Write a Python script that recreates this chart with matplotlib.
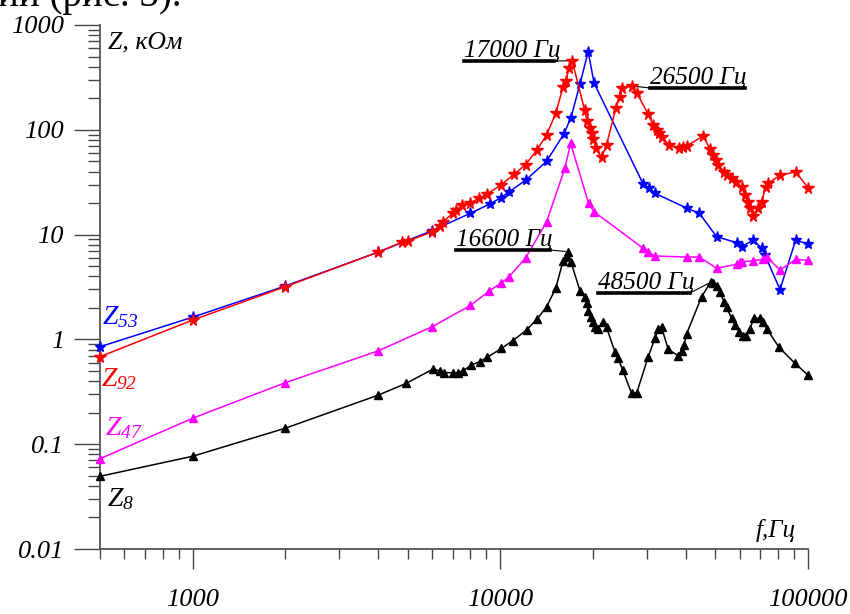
import numpy as np
import matplotlib
matplotlib.use('Agg')
import matplotlib.pyplot as plt
from matplotlib.lines import Line2D
from matplotlib.ticker import FixedLocator, NullFormatter, LogLocator

plt.rcParams['font.family'] = ['Liberation Serif', 'DejaVu Serif']
plt.rcParams['mathtext.fontset'] = 'custom'
plt.rcParams['mathtext.rm'] = 'Liberation Serif:italic'
plt.rcParams['mathtext.it'] = 'Liberation Serif:italic'

# --- data (f in Hz, Z in kOhm) ---
f_53 = [500, 1000, 2000, 4000, 6000, 8000, 9250, 10040, 10660, 12080,
        14130, 16090, 16960, 18140, 19300, 20180, 29130, 30470, 31800, 40500,
        44320, 50470, 58620, 60860, 66380, 70690, 72460, 81090, 91200, 100000]
z_53 = [0.851, 1.63, 3.23, 6.78, 10.9, 16.0, 19.6, 22.5, 25.5, 33.0,
        50.0, 91.2, 130, 272, 556, 278, 30.4, 27.7, 24.8, 17.8,
        16.0, 9.55, 8.37, 7.66, 8.88, 7.40, 6.38, 2.99, 8.88, 8.13]

f_92 = [500, 1000, 2000, 4000, 4800, 5000, 6000, 6360, 6520, 7020,
        7200, 7535, 8000, 8530, 9060, 10060, 11060, 12080, 13120, 14130,
        15150, 16000, 16330, 16740, 17120, 18790, 19150, 19550, 19800, 20040,
        20440, 21330, 22140, 23750, 24470, 24840, 26720, 27730, 30250, 31400,
        32210, 32850, 33440, 35390, 38060, 39130, 40320, 45660, 48000, 49200,
        50210, 51080, 53300, 54390, 56460, 58320, 60860, 62370, 63650, 64760,
        66380, 68910, 70690, 72840, 74280, 81090, 91200, 100000]
z_92 = [0.684, 1.53, 3.18, 6.78, 8.5, 8.7, 10.6, 12.2, 13.3, 16.0,
        17.1, 19.2, 20.2, 22.2, 24.4, 29.8, 37.5, 46.4, 63.5, 89.2,
        144, 258, 294, 391, 456, 155, 122, 103, 92.6, 81.2,
        66.6, 54.7, 71.6, 162, 207, 249, 262, 226, 141, 111,
        99.5, 92.6, 85.9, 71.6, 66.6, 68.1, 70.0, 87.3, 65.6, 57.5,
        51.5, 46.1, 39.8, 37.0, 34.5, 32.0, 28.3, 23.9, 20.3, 17.8,
        15.1, 17.8, 20.6, 28.3, 30.9, 36.8, 39.8, 28.0]

f_47 = [500, 1000, 2000, 4000, 6000, 8000, 9200, 10040, 10660, 12100,
        14130, 16210, 16920, 19360, 20180, 29130, 30250, 31800, 40400, 44320,
        50470, 58620, 60090, 60860, 66380, 71540, 73390, 81090, 91410, 100000]
z_47 = [0.0727, 0.177, 0.386, 0.775, 1.32, 2.11, 2.90, 3.43, 3.94, 6.02,
        13.2, 42.9, 74.3, 19.9, 16.5, 7.40, 6.82, 6.25, 6.11, 6.11,
        4.77, 5.21, 5.44, 5.49, 5.64, 5.81, 6.15, 4.59, 5.81, 5.68]

f_8 = [500, 1000, 2000, 4000, 4950, 6050, 6360, 6570, 7020, 7260,
       7570, 8060, 8580, 9050, 10070, 11000, 12170, 13150, 14130, 15150,
       16000, 16330, 16620, 16960, 18140, 18830, 19070, 19300, 19650, 19950,
       20290, 20800, 21490, 22140, 23570, 24160, 24970, 26720, 27730, 30250,
       31800, 32600, 33440, 35130, 37860, 38840, 39510, 40320, 45120, 48260,
       49200, 50470, 51730, 53300, 54390, 56460, 57880, 59780, 61590, 62700,
       64760, 66730, 69800, 71540, 73390, 80490, 90710, 100000]
z_8 = [0.0494, 0.0767, 0.142, 0.293, 0.381, 0.522, 0.499, 0.481, 0.481, 0.481,
       0.503, 0.570, 0.615, 0.672, 0.819, 0.976, 1.23, 1.56, 2.04, 3.09,
       5.64, 6.15, 6.87, 5.51, 2.92, 2.56, 2.24, 1.88, 1.63, 1.47,
       1.32, 1.27, 1.47, 1.30, 0.763, 0.660, 0.511, 0.306, 0.306, 0.684,
       1.02, 1.27, 1.30, 0.804, 0.699, 0.780, 0.884, 1.13, 2.56, 3.51,
       3.43, 3.23, 2.85, 2.29, 2.02, 1.59, 1.37, 1.18, 1.08, 1.08,
       1.27, 1.59, 1.59, 1.47, 1.27, 0.841, 0.591, 0.457]

y_ticks = [0.01, 0.1, 1, 10, 100, 1000]
y_labels = ['0.01', '0.1', '1', '10', '100', '1000']
x_ticks = [1000, 10000, 100000]
x_labels = ['1000', '10000', '100000']

W, H = 850, 614


def px(x, y):
    # image pixel (top-left origin) -> figure fraction
    return x / W, 1 - y / H


fig = plt.figure(figsize=(8.5, 6.14), dpi=100)
l, b = px(100, 549)
ax = fig.add_axes([l, b, 708 / W, 524 / H])
ax.set_xscale('log')
ax.set_yscale('log')
ax.set_xlim(500, 100000)
ax.set_ylim(0.01, 1000)

ax.plot(f_53, z_53, color='#0000ff', lw=1.1, marker='*', ms=8, clip_on=False, zorder=3)
ax.plot(f_92, z_92, color='#ff0000', lw=1.1, marker='*', ms=8.5, clip_on=False, zorder=4)
ax.plot(f_47, z_47, color='#ff00ff', lw=1.1, marker='^', ms=5.5, clip_on=False, zorder=3)
ax.plot(f_8, z_8, color='black', lw=1.1, marker='^', ms=5.5, clip_on=False, zorder=3)

# axes look
for s in ['top', 'right']:
    ax.spines[s].set_visible(False)
for s in ['left', 'bottom']:
    ax.spines[s].set_color('#555555')
    ax.spines[s].set_linewidth(1.3)

ax.xaxis.set_major_locator(FixedLocator(x_ticks))
ax.set_xticklabels(x_labels)
ax.xaxis.set_minor_locator(LogLocator(base=10, subs=np.arange(2, 10)))
ax.xaxis.set_minor_formatter(NullFormatter())
ax.yaxis.set_major_locator(FixedLocator(y_ticks))
ax.set_yticklabels(y_labels)
ax.yaxis.set_minor_locator(LogLocator(base=10, subs=np.arange(2, 10)))
ax.yaxis.set_minor_formatter(NullFormatter())

ax.tick_params(axis='x', which='major', direction='out', length=14.5, width=1, color='#444444', pad=14,
               labelsize=19)
ax.tick_params(axis='x', which='minor', direction='out', length=7.5, width=1, color='#444444')
ax.tick_params(axis='y', which='major', direction='out', length=19, width=1, color='#444444', pad=7,
               labelsize=19)
ax.tick_params(axis='y', which='minor', direction='out', length=9, width=1, color='#444444')
for t in ax.get_xticklabels() + ax.get_yticklabels():
    t.set_fontstyle('italic')

# axis titles
fig.text(*px(108, 48), 'Z, кОм', fontsize=18.5, style='italic', va='baseline', ha='left')
fig.text(*px(756, 537), 'f,Гц', fontsize=18, style='italic', va='baseline', ha='left')

# series labels
fig.text(*px(102, 324), r'$Z_{53}$', fontsize=20, color='#0000ff', va='baseline')
fig.text(*px(101, 386), r'$Z_{92}$', fontsize=20, color='#ff0000', va='baseline')
fig.text(*px(105, 435), r'$Z_{47}$', fontsize=20, color='#ff00ff', va='baseline')
fig.text(*px(107, 506), r'$Z_{8}$', fontsize=20, color='black', va='baseline')

# resonance annotations: (text, left px, underline y px, right px, peak f, peak z, leader starts at)
notes = [
    ('17000 Гц', 464, 61, 554, f_92[24], z_92[24], 'right'),
    ('26500 Гц', 650, 88, 745, f_92[36], z_92[36], 'left'),
    ('16600 Гц', 456, 250, 550, f_8[22], z_8[22], 'right'),
    ('48500 Гц', 598, 293, 690, f_8[49], z_8[49], 'right'),
]
for txt, x0, yu, x1, pf, pz, side in notes:
    fig.text(*px(x0, yu - 4), txt, fontsize=18.2, style='italic', va='baseline', ha='left')
    ux = [x0 / W, x1 / W]
    uy = [1 - yu / H] * 2
    fig.add_artist(Line2D(ux, uy, lw=2.6, color='black'))
    start = px(x1, yu) if side == 'right' else px(x0, yu)
    ax.annotate('', xy=(pf, pz), xycoords='data', xytext=start, textcoords='figure fraction',
                arrowprops=dict(arrowstyle='-', lw=0.8, color='black', shrinkA=0, shrinkB=2))

# cropped line of document text at the very top (cut off in the reference too)
fig.text(*px(-2, 6), 'ии (рис. 3).', fontsize=28, va='baseline', ha='left')

fig.savefig('out.png', dpi=100)
